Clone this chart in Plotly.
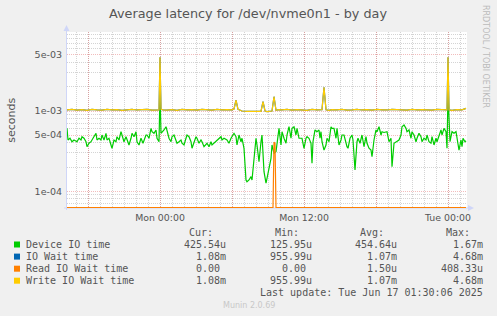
import math
import pandas as pd
import plotly.graph_objects as go

# ------------------------------------------------------------------ data
start = pd.Timestamp("2025-06-15 16:15:00")      # first 5-minute sample
sample = pd.Timedelta(minutes=5)

# Device IO time (microseconds), indexed by 5-minute sample number
device_steps = [0, 1, 3, 5, 7, 10, 12, 14, 15, 17, 19, 20, 22, 24, 26, 29, 30, 32, 34, 35,
                37, 39, 40, 42, 44, 45, 47, 49, 50, 52, 54, 55, 57, 59, 60, 62, 64, 65, 67, 69,
                70, 72, 74, 76, 79, 80, 82, 84, 85, 87, 89, 90, 92, 93, 94, 96, 97, 99, 100, 102,
                104, 105, 107, 109, 110, 112, 114, 115, 117, 119, 120, 122, 124, 125, 127, 129, 130, 132, 134, 135,
                137, 139, 140, 142, 144, 145, 147, 149, 150, 152, 154, 155, 157, 160, 162, 164, 167, 169, 170, 172,
                174, 175, 177, 179, 180, 182, 184, 185, 187, 189, 190, 192, 194, 195, 197, 199, 200, 202, 204, 205,
                207, 209, 210, 212, 214, 215, 217, 219, 220, 222, 224, 225, 227, 229, 230, 232, 235, 237, 239, 240,
                242, 244, 245, 246, 248, 250, 252, 253, 254, 255, 257, 259, 260, 262, 264, 265, 267, 269, 270, 272,
                274, 275, 277, 279, 280, 281, 283, 285, 286, 288, 290, 291, 293, 295, 297, 299, 300, 302, 304, 305,
                307, 309, 310, 312, 314, 315, 317, 320, 322, 324, 325, 327, 330, 332, 334, 335, 337, 339, 340, 342,
                344, 345, 347, 349, 350, 352, 354, 355, 357, 359, 360, 362, 364, 365, 367, 369, 370, 372, 374, 375,
                377, 379, 380, 381, 382, 383, 385, 387, 389, 390, 392, 394, 395, 396, 398, 399]
device_us = [608, 435, 457, 414, 435, 414, 457, 435, 478, 457, 414, 359, 396, 414, 457, 527, 435, 457, 435, 502,
             435, 527, 435, 457, 377, 343, 435, 414, 478, 435, 552, 502, 414, 478, 435, 377, 457, 527, 478, 552,
             414, 377, 457, 396, 502, 502, 457, 608, 552, 527, 580, 457, 414, 1670, 527, 552, 580, 637, 580, 457,
             414, 478, 502, 435, 396, 414, 435, 396, 377, 457, 502, 478, 414, 343, 414, 478, 457, 396, 435, 414,
             359, 377, 396, 359, 414, 377, 396, 414, 435, 457, 478, 435, 457, 435, 396, 457, 527, 478, 377, 502,
             414, 457, 343, 138, 131, 138, 152, 138, 233, 457, 377, 233, 414, 502, 175, 126, 145, 193, 257, 377,
             297, 311, 414, 608, 377, 552, 457, 396, 502, 637, 457, 608, 637, 502, 608, 457, 457, 343, 457, 478,
             457, 396, 223, 414, 580, 552, 580, 457, 552, 414, 326, 377, 457, 414, 637, 608, 608, 457, 608, 377,
             435, 502, 502, 396, 359, 343, 457, 502, 435, 184, 414, 457, 396, 502, 359, 478, 396, 343, 326, 269,
             435, 580, 552, 637, 502, 552, 540, 552, 414, 457, 202, 396, 414, 435, 502, 637, 669, 608, 552, 580,
             457, 552, 502, 414, 457, 527, 478, 414, 457, 435, 502, 414, 396, 478, 377, 457, 414, 502, 580, 502,
             608, 552, 343, 1660, 552, 414, 552, 527, 552, 457, 326, 435, 359, 457, 414, 426]

# Write IO wait time (microseconds); IO wait time has the same values here
wait_steps = [0, 5, 10, 15, 20, 25, 30, 35, 40, 45, 50, 55, 60, 65, 70, 75, 80, 85, 90, 92,
              93, 94, 96, 100, 105, 110, 115, 120, 125, 130, 135, 140, 145, 150, 155, 160, 165, 167, 169, 171,
              175, 180, 185, 190, 194, 196, 198, 200, 205, 207, 209, 212, 215, 220, 225, 230, 235, 240, 245, 250,
              255, 257, 259, 262, 265, 270, 275, 280, 285, 290, 295, 300, 305, 310, 315, 320, 325, 330, 335, 340,
              345, 350, 355, 360, 365, 370, 375, 379, 380, 381, 382, 385, 390, 395, 399]
write_wait_us = [1030, 1045, 1025, 1040, 1020, 1050, 1035, 1025, 1045, 1030, 1040, 1020, 1035, 1050, 1030, 1040, 1045, 1025, 1040, 1030,
                 4680, 1050, 1035, 1025, 1040, 1020, 1045, 1030, 1040, 1025, 1050, 1035, 1025, 1045, 1030, 1040, 1035, 1060, 1371, 1050,
                 1000, 990, 985, 995, 990, 1306, 1000, 985, 1000, 1507, 1020, 1040, 1030, 1045, 1025, 1040, 1030, 1020, 1045, 1030,
                 1040, 1975, 1035, 1020, 1040, 1030, 1045, 1025, 1035, 1050, 1030, 1040, 1025, 1045, 1035, 1030, 1050, 1035, 1040, 1025,
                 1045, 1030, 1040, 1035, 1025, 1045, 1030, 1040, 1030, 4680, 1030, 1020, 1040, 1035, 1080]
io_wait_us = list(write_wait_us)

# Read IO wait time (microseconds)
read_steps = [0, 206, 207, 208, 209, 399]
read_wait_us = [0.0, 0.0, 408.33, 395.0, 0.0, 0.0]

series_names = ["Device IO time", "IO Wait time", "Read IO Wait time", "Write IO Wait time"]
col_headers = ["Cur:", "Min:", "Avg:", "Max:"]
cur_txt = ["425.54u", "1.08m", "0.00", "1.08m"]
min_txt = ["125.95u", "955.99u", "0.00", "955.99u"]
avg_txt = ["454.64u", "1.07m", "1.50u", "1.07m"]
max_txt = ["1.67m", "4.68m", "408.33u", "4.68m"]

x_tick_times = ["2025-06-15 18:00", "2025-06-16 00:00", "2025-06-16 06:00",
                "2025-06-16 12:00", "2025-06-16 18:00", "2025-06-17 00:00"]
x_tick_labels = ["", "Mon 00:00", "", "Mon 12:00", "", "Tue 00:00"]
y_tick_vals = [1e-4, 5e-4, 1e-3, 5e-3]
y_tick_labels = ["1e-04", "5e-04", "1e-03", "5e-03"]

title_text = "Average latency for /dev/nvme0n1 - by day"
y_title = "seconds"
last_update = "Last update: Tue Jun 17 01:30:06 2025"
footer = "Munin 2.0.69"
side_text = "RRDTOOL / TOBI OETIKER"

# ------------------------------------------------------------------ style / geometry
W, H = 497, 316
L, R, T, B = 67, 467, 32, 208
LOG_LO, LOG_HI = -4.2095, -2.015
colors = ["#00CC00", "#0066B3", "#FF8000", "#FFCC00"]
TXT = "#555555"
AXIS_C = "#CFD6F8"
MINOR_C = "rgba(143,143,143,0.38)"
MAJOR_C = "rgba(222,79,79,0.38)"


def px(x):
    return (x - L) / (R - L)


def py(y):
    return (B - y) / (B - T)


floor_val = 10 ** (LOG_LO + 0.004)   # rrdtool draws zero at the bottom of a log graph


def to_sec(vals):
    return [max(v * 1e-6, floor_val) for v in vals]


def to_time(steps):
    return [start + s * sample for s in steps]


fig = go.Figure()
trace_data = [
    (device_steps, device_us),
    (wait_steps, io_wait_us),
    (read_steps, read_wait_us),
    (wait_steps, write_wait_us),
]
for (st, vals), name, c in zip(trace_data, series_names, colors):
    fig.add_trace(go.Scatter(x=to_time(st), y=to_sec(vals), mode="lines", name=name,
                             line=dict(color=c, width=1.2), hoverinfo="skip", showlegend=False))

x_end = start + 400 * sample
hour_grid = list(pd.date_range(start.ceil("h"), x_end, freq="h"))
y_minor = [m * 10.0 ** e for e in (-5, -4, -3) for m in range(2, 10)
           if m != 5 and LOG_LO < math.log10(m * 10.0 ** e) < LOG_HI]

fig.update_xaxes(
    type="date", range=[start, x_end], showline=False, zeroline=False,
    tickmode="array", tickvals=x_tick_times, ticktext=x_tick_labels,
    ticks="", showgrid=True, gridcolor=MAJOR_C, griddash="1px,1px", gridwidth=1,
    tickfont=dict(family="DejaVu Sans", size=9.4, color=TXT),
    minor=dict(tickmode="array", tickvals=hour_grid, showgrid=True,
               gridcolor=MINOR_C, griddash="1px,1px", gridwidth=1),
    ticklabelstandoff=3,
    layer="below traces",
)
fig.update_yaxes(
    type="log", range=[LOG_LO, LOG_HI], showline=False, zeroline=False,
    tickmode="array", tickvals=y_tick_vals, ticktext=y_tick_labels,
    ticks="", showgrid=True, gridcolor=MAJOR_C, griddash="1px,1px", gridwidth=1,
    tickfont=dict(family="DejaVu Sans", size=9.5, color=TXT),
    minor=dict(tickmode="array", tickvals=y_minor, showgrid=True,
               gridcolor=MINOR_C, griddash="1px,1px", gridwidth=1),
    ticklabelstandoff=4,
    layer="below traces",
)

shapes = [
    # axes (light blue, rrdtool style) with arrows
    dict(type="line", xref="paper", yref="paper", x0=px(66.5), x1=px(66.5), y0=py(210), y1=py(29),
         line=dict(color=AXIS_C, width=1), layer="below"),
    dict(type="line", xref="paper", yref="paper", x0=px(64), x1=px(470), y0=py(208), y1=py(208),
         line=dict(color=AXIS_C, width=1), layer="below"),
    dict(type="path", xref="paper", yref="paper",
         path=f"M {px(63.5)} {py(31)} L {px(69.5)} {py(31)} L {px(66.5)} {py(25)} Z",
         fillcolor=AXIS_C, line=dict(width=0)),
    dict(type="path", xref="paper", yref="paper",
         path=f"M {px(468)} {py(205)} L {px(468)} {py(211)} L {px(474)} {py(208)} Z",
         fillcolor=AXIS_C, line=dict(width=0)),
]

row_y = [244.5, 256.6, 268.7, 280.7]
for c, ry in zip(colors, row_y):
    shapes.append(dict(type="rect", xref="paper", yref="paper", x0=px(14), x1=px(20),
                       y0=py(ry + 3), y1=py(ry - 3), fillcolor=c, line=dict(width=0)))

annotations = []


def add_text(text, x, y, anchor="left", size=10, family="DejaVu Sans Mono", color=TXT, angle=0):
    annotations.append(dict(text=text, x=px(x), y=py(y), xref="paper", yref="paper",
                            xanchor=anchor, yanchor="middle", showarrow=False,
                            borderpad=0, borderwidth=0, textangle=angle,
                            font=dict(family=family, size=size, color=color)))


add_text(title_text, 248.3, 14, anchor="center", size=12.8, family="DejaVu Sans", color="#555555")
add_text(y_title, 10.7, 120, anchor="center", size=11, family="DejaVu Sans", color=TXT, angle=-90)
add_text(side_text, 486, 56, anchor="center", size=8, family="DejaVu Sans", color="#BBBBBB", angle=90)

header_right = [213.3, 299.0, 384.3, 470.0]
value_right = [225.7, 311.7, 396.7, 482.7]
for h, xr in zip(col_headers, header_right):
    add_text(h, xr, 232.3, anchor="right")


def fmt(s):
    return s if s[-1] in "um" else s + "\u00a0"


for i, ry in enumerate(row_y):
    add_text(series_names[i], 26.3, ry, anchor="left")
    for col, xr in zip((cur_txt, min_txt, avg_txt, max_txt), value_right):
        add_text(fmt(col[i]), xr, ry, anchor="right")

add_text(last_update, 482.7, 292.7, anchor="right")
add_text(footer, 248.5, 305, anchor="center", size=8, family="DejaVu Sans", color="#C8C8C8")

fig.update_layout(
    width=W, height=H, autosize=False,
    margin=dict(l=L, r=W - R, t=T, b=H - B, pad=0),
    paper_bgcolor="#F0F0F0", plot_bgcolor="#FFFFFF",
    shapes=shapes, annotations=annotations, showlegend=False,
)

fig.write_html("out.html", config={"displayModeBar": False})
